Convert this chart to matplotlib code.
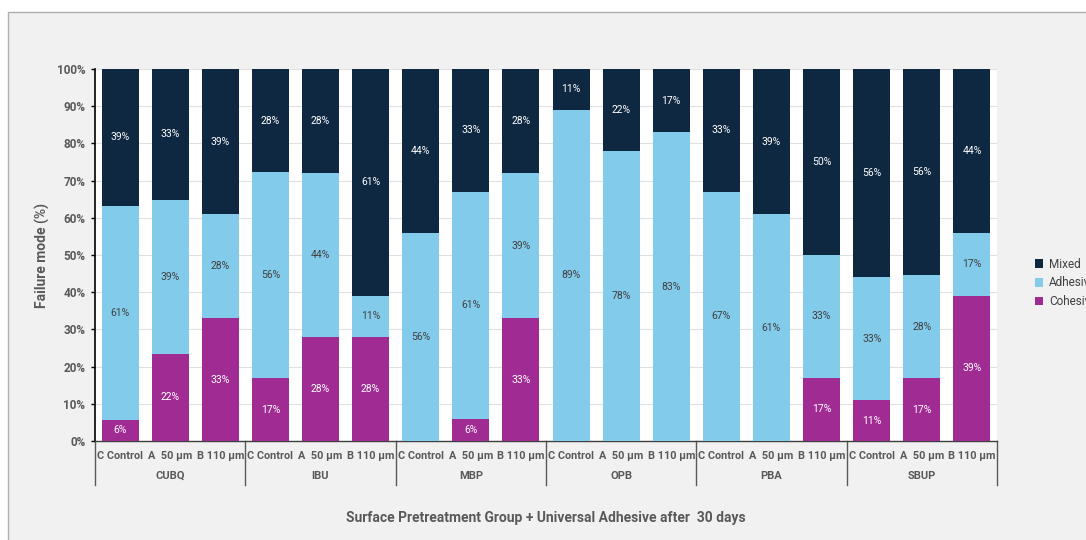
import matplotlib.pyplot as plt
import matplotlib.patches as mpatches
import matplotlib.transforms as mtransforms
import numpy as np

plt.rcParams['font.family'] = ['Roboto', 'DejaVu Sans']

groups = ['CUBQ', 'IBU', 'MBP', 'OPB', 'PBA', 'SBUP']
treatments = ['C Control', 'A  50 µm', 'B 110 µm']

# label values (%), per bar in order
cohesive = [6, 22, 33, 17, 28, 28, 0, 6, 33, 0, 0, 0, 0, 0, 17, 11, 17, 39]
adhesive = [61, 39, 28, 56, 44, 11, 56, 61, 39, 89, 78, 83, 67, 61, 33, 33, 28, 17]
mixed = [39, 33, 39, 28, 28, 61, 44, 33, 28, 11, 22, 17, 33, 39, 50, 56, 56, 44]

c_mixed = '#0e2841'
c_adh = '#83cbeb'
c_coh = '#a02b93'
grey = '#595959'

coh = np.array(cohesive, float)
adh = np.array(adhesive, float)
mix = np.array(mixed, float)
tot = coh + adh + mix
coh_p = coh / tot * 100
adh_p = adh / tot * 100
mix_p = mix / tot * 100

fig = plt.figure(figsize=(10.86, 5.40), dpi=100)
fig.patch.set_facecolor('white')
panel = mpatches.Rectangle((8 / 1086, -0.01), 1.1, (540 - 12) / 540 + 0.01,
                           transform=fig.transFigure, facecolor='#f1f1f1',
                           edgecolor='#b0b0b0', linewidth=1, zorder=-10)
fig.patches.append(panel)

ax = fig.add_axes([95 / 1086, 1 - 441 / 540, (997 - 95) / 1086, (441 - 69) / 540])
ax.set_facecolor('white')

x = np.arange(len(coh))
w = 0.74
ax.bar(x, coh_p, w, color=c_coh, label='Cohesive', zorder=3)
ax.bar(x, adh_p, w, bottom=coh_p, color=c_adh, label='Adhesive', zorder=3)
ax.bar(x, mix_p, w, bottom=coh_p + adh_p, color=c_mixed, label='Mixed', zorder=3)

for i in range(len(x)):
    if coh[i] > 0:
        ax.text(x[i], coh_p[i] / 2, f'{cohesive[i]}%', ha='center', va='center',
                color='white', fontsize=7.5, zorder=4)
    if adh[i] > 0:
        ax.text(x[i], coh_p[i] + adh_p[i] / 2, f'{adhesive[i]}%', ha='center', va='center',
                color='#404040', fontsize=7.5, zorder=4)
    if mix[i] > 0:
        ax.text(x[i], coh_p[i] + adh_p[i] + mix_p[i] / 2, f'{mixed[i]}%', ha='center',
                va='center', color='white', fontsize=7.5, zorder=4)

ax.set_xlim(-0.5, len(x) - 0.5)
ax.set_ylim(0, 100)
ax.set_yticks(np.arange(0, 101, 10))
ax.set_yticklabels([f'{v}%' for v in range(0, 101, 10)])
ax.yaxis.grid(True, color='#e0e0e0', linewidth=0.8, zorder=0)
ax.tick_params(axis='y', length=3, width=1, colors='black', labelcolor=grey,
               labelsize=8.5, pad=4)
for lab in ax.get_yticklabels():
    lab.set_fontweight('bold')

ax.set_xticks(x)
ax.set_xticklabels(treatments * len(groups), fontsize=7.8, fontweight='bold', color=grey)
ax.tick_params(axis='x', length=0, pad=7)

for s in ['top', 'right']:
    ax.spines[s].set_visible(False)
ax.spines['left'].set_color('black')
ax.spines['left'].set_linewidth(1.2)
ax.spines['bottom'].set_color('#404040')
ax.spines['bottom'].set_linewidth(1)

trans = mtransforms.blended_transform_factory(ax.transData, ax.transAxes)
n = len(treatments)
for g in range(len(groups) + 1):
    xs = g * n - 0.5
    ax.plot([xs, xs], [0, -44 / 372], transform=trans, color=grey, lw=1, clip_on=False)
for g, name in enumerate(groups):
    ax.text(g * n + 1, -35 / 372, name, transform=trans, ha='center', va='center',
            fontsize=8, fontweight='bold', color=grey)

ax.set_ylabel('Failure mode (%)', fontsize=10, fontweight='bold', color=grey, labelpad=5)
fig.text((95 + 997) / 2 / 1086, 1 - 518 / 540,
         'Surface Pretreatment Group + Universal Adhesive after  30 days',
         ha='center', va='center', fontsize=10, fontweight='bold', color=grey)

handles, labels = ax.get_legend_handles_labels()
leg = fig.legend(handles[::-1], labels[::-1], loc='center left',
                 bbox_to_anchor=(1024 / 1086, 1 - 283 / 540), frameon=False,
                 fontsize=8.5, handlelength=0.7, handleheight=0.7, handletextpad=0.5,
                 labelspacing=0.5, labelcolor='#404040')

fig.savefig('out.png', dpi=100, facecolor=fig.get_facecolor())
